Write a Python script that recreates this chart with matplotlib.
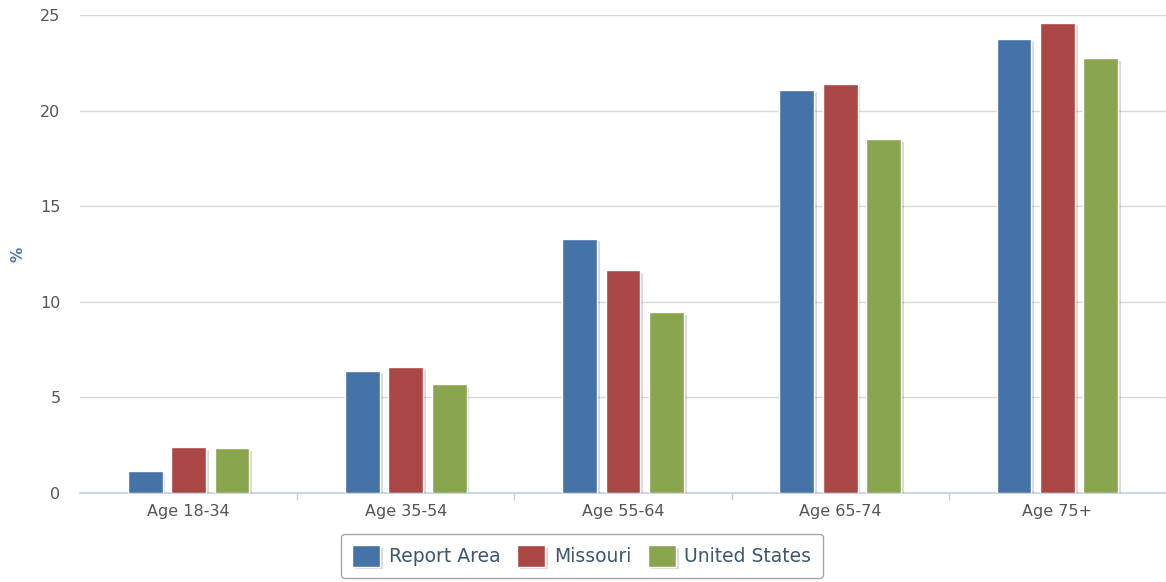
import numpy as np
import matplotlib.pyplot as plt
import matplotlib.patheffects as pe

categories = ['Age 18-34', 'Age 35-54', 'Age 55-64', 'Age 65-74', 'Age 75+']
report_area = [1.15, 6.4, 13.3, 21.1, 23.75]
missouri = [2.4, 6.6, 11.65, 21.4, 24.6]
united_states = [2.35, 5.7, 9.45, 18.5, 22.75]

series = [('Report Area', report_area, '#4572A7'),
          ('Missouri', missouri, '#AA4643'),
          ('United States', united_states, '#89A54E')]

fig = plt.figure(figsize=(11.66, 5.82), dpi=100)
ax = fig.add_axes([80 / 1166, 1 - 493 / 582, 1 - 80 / 1166, (493 - 15) / 582])

x = np.arange(len(categories))
width = 0.16
shadow = [pe.SimplePatchShadow(offset=(2, -2), shadow_rgbFace='#000000', alpha=0.15), pe.Normal()]
for i, (name, vals, col) in enumerate(series):
    ax.bar(x + (i - 1) * 0.2, vals, width, color=col, edgecolor='white', linewidth=1,
           label=name, zorder=3, path_effects=shadow)

ax.set_xlim(-0.5, len(categories) - 0.5)
ax.set_ylim(0, 25)
ax.set_yticks([0, 5, 10, 15, 20, 25])
ax.set_xticks(x)
ax.set_xticklabels(categories)
ax.set_xticks(np.arange(0.5, len(categories) - 0.5), minor=True)
ax.tick_params(axis='x', which='major', length=0, colors='#555555', labelsize=11.5, pad=8)
ax.tick_params(axis='x', which='minor', length=5, color='#C0D0E0', width=1)
ax.tick_params(axis='y', length=0, colors='#555555', labelsize=11.5, pad=14)
ax.yaxis.grid(True, color='#D8D8D8', linewidth=1, zorder=0)
for s in ['top', 'right', 'left']:
    ax.spines[s].set_visible(False)
ax.spines['bottom'].set_color('#C0D0E0')
ax.spines['bottom'].set_linewidth(1.2)
fig.text(18 / 1166, 1 - 254 / 582, '%', color='#4D759E', fontsize=11, fontweight='bold',
         rotation=90, ha='center', va='center')

leg = ax.legend(loc='upper center', bbox_to_anchor=(0.462, -0.085), ncol=3, frameon=True,
                fontsize=13.5, handlelength=1.5, handleheight=1.4, handletextpad=0.45,
                columnspacing=0.9, borderpad=0.6, borderaxespad=0, fancybox=True)
leg.get_frame().set_edgecolor('#909090')
leg.get_frame().set_linewidth(1)
for t in leg.get_texts():
    t.set_color('#3E576F')

fig.savefig('out.png', dpi=100)
